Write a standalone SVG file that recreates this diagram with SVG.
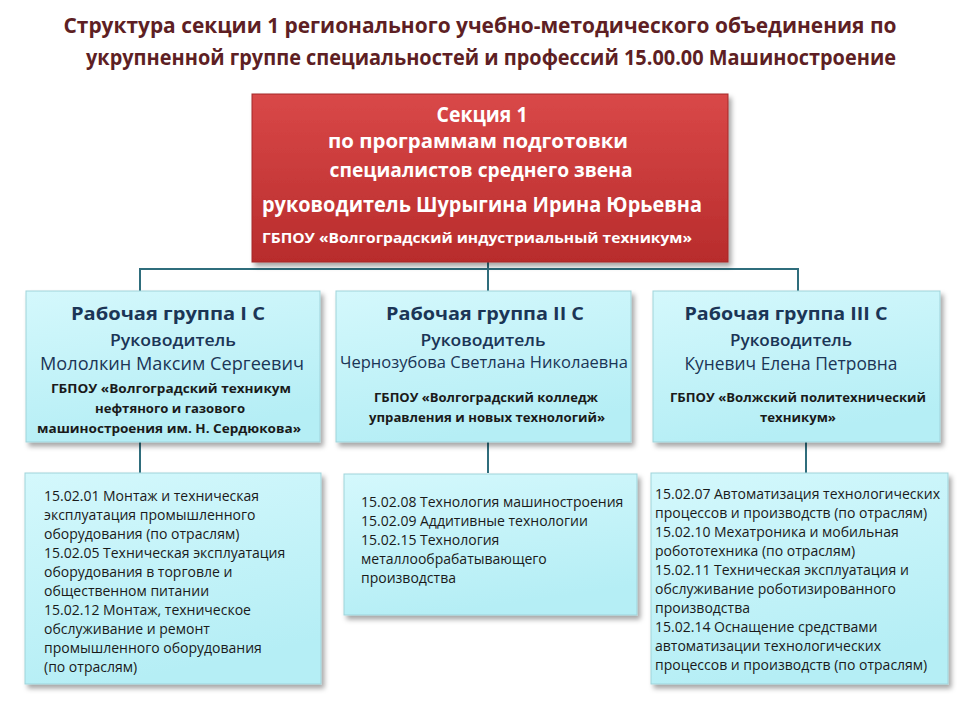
<svg xmlns="http://www.w3.org/2000/svg" width="960" height="720" viewBox="0 0 960 720">
<defs>
  <linearGradient id="gRed" x1="0" y1="0" x2="0" y2="1">
    <stop offset="0" stop-color="#d94848"/>
    <stop offset="1" stop-color="#b82c2c"/>
  </linearGradient>
  <linearGradient id="gCyan" x1="0" y1="0" x2="0.3" y2="1">
    <stop offset="0" stop-color="#d4f8fc"/>
    <stop offset="1" stop-color="#b5eef5"/>
  </linearGradient>
  <filter id="sh" x="-10%" y="-10%" width="120%" height="130%">
    <feDropShadow dx="3" dy="4" stdDeviation="2.5" flood-color="#000" flood-opacity="0.35"/>
  </filter>
</defs>
<style>
  .title{font-family:"Open Sans","Liberation Sans",sans-serif;font-weight:bold;font-size:22px;fill:#5e1f24}
  .red{fill:url(#gRed);stroke:#a42828;stroke-width:1}
  .cyan{fill:url(#gCyan);stroke:#9fd3da;stroke-width:1}
  .rt{font-family:"Open Sans","Liberation Sans",sans-serif;font-weight:bold;fill:#ffffff;text-anchor:middle}
  .gt{font-family:"Open Sans","Liberation Sans",sans-serif;fill:#1b3556;text-anchor:middle}
  .b{font-weight:bold}
  .sb{font-weight:600}
  .inst{font-family:"Open Sans","Liberation Sans",sans-serif;font-weight:bold;font-size:13px;fill:#1a1a1a;text-anchor:middle}
  .dt{font-family:"Open Sans","Liberation Sans",sans-serif;font-size:14px;fill:#1a1a1a}
  .conn{stroke:#2f6d7c;stroke-width:2;fill:none}
</style>

<g id="title">
  <text class="title" x="480" y="33" text-anchor="middle" textLength="833" lengthAdjust="spacingAndGlyphs">Структура секции 1 регионального учебно-методического объединения по</text>
  <text class="title" x="491" y="65" text-anchor="middle" textLength="810" lengthAdjust="spacingAndGlyphs">укрупненной группе специальностей и профессий 15.00.00 Машиностроение</text>
</g>

<g id="connectors">
  <path class="conn" d="M488 262 V269 M140 269 H798 M140 268 V291 M488 268 V291 M798 268 V291"/>
  <path class="conn" d="M140 442 V473 M488 442 V473 M806 442 V473"/>
</g>

<g id="section1">
  <rect class="red" x="252" y="94" width="476" height="168" filter="url(#sh)"/>
  <text class="rt" x="482" y="122" font-size="21" textLength="91" lengthAdjust="spacingAndGlyphs">Секция 1</text>
  <text class="rt" x="478" y="148" font-size="20" textLength="300" lengthAdjust="spacingAndGlyphs">по программам подготовки</text>
  <text class="rt" x="481" y="177" font-size="20" textLength="303" lengthAdjust="spacingAndGlyphs">специалистов среднего звена</text>
  <text class="rt" x="482" y="212" font-size="21" textLength="440" lengthAdjust="spacingAndGlyphs">руководитель Шурыгина  Ирина Юрьевна</text>
  <text class="rt" x="477" y="243" font-size="14.5" textLength="430" lengthAdjust="spacingAndGlyphs">ГБПОУ «Волгоградский индустриальный техникум»</text>
</g>

<g id="group1">
  <rect class="cyan" x="26" y="291" width="294" height="151" filter="url(#sh)"/>
  <text class="gt b" x="168" y="320" font-size="18" textLength="194" lengthAdjust="spacingAndGlyphs">Рабочая группа I С</text>
  <text class="gt sb" x="173" y="346" font-size="16" textLength="126" lengthAdjust="spacingAndGlyphs">Руководитель</text>
  <text class="gt" x="172" y="370" font-size="18" textLength="264" lengthAdjust="spacingAndGlyphs">Мололкин Максим Сергеевич</text>
  <text class="inst" x="171" y="393" textLength="240" lengthAdjust="spacingAndGlyphs">ГБПОУ «Волгоградский техникум</text>
  <text class="inst" x="170" y="413" textLength="150" lengthAdjust="spacingAndGlyphs">нефтяного и газового</text>
  <text class="inst" x="169" y="433" textLength="264" lengthAdjust="spacingAndGlyphs">машиностроения им. Н. Сердюкова»</text>
</g>

<g id="group2">
  <rect class="cyan" x="336" y="291" width="295" height="151" filter="url(#sh)"/>
  <text class="gt b" x="485" y="320" font-size="18" textLength="198" lengthAdjust="spacingAndGlyphs">Рабочая группа II С</text>
  <text class="gt sb" x="483" y="346" font-size="16" textLength="125" lengthAdjust="spacingAndGlyphs">Руководитель</text>
  <text class="gt" x="484" y="368" font-size="16" textLength="288" lengthAdjust="spacingAndGlyphs">Чернозубова Светлана Николаевна</text>
  <text class="inst" x="486" y="402" textLength="224" lengthAdjust="spacingAndGlyphs">ГБПОУ «Волгоградский колледж</text>
  <text class="inst" x="487" y="422" textLength="236" lengthAdjust="spacingAndGlyphs">управления и новых технологий»</text>
</g>

<g id="group3">
  <rect class="cyan" x="653" y="291" width="287" height="151" filter="url(#sh)"/>
  <text class="gt b" x="786" y="320" font-size="18" textLength="203" lengthAdjust="spacingAndGlyphs">Рабочая группа III С</text>
  <text class="gt sb" x="791" y="346" font-size="16" textLength="122" lengthAdjust="spacingAndGlyphs">Руководитель</text>
  <text class="gt" x="791" y="370" font-size="18" textLength="213" lengthAdjust="spacingAndGlyphs">Куневич Елена Петровна</text>
  <text class="inst" x="798" y="402" textLength="256" lengthAdjust="spacingAndGlyphs">ГБПОУ «Волжский политехнический</text>
  <text class="inst" x="798" y="422" textLength="76" lengthAdjust="spacingAndGlyphs">техникум»</text>
</g>

<g id="spec1">
  <rect class="cyan" x="25" y="473" width="296" height="211" filter="url(#sh)"/>
  <text class="dt">
    <tspan x="44" y="501">15.02.01 Монтаж и техническая</tspan>
    <tspan x="44" y="520">эксплуатация промышленного</tspan>
    <tspan x="44" y="539">оборудования (по отраслям)</tspan>
    <tspan x="44" y="558">15.02.05 Техническая эксплуатация</tspan>
    <tspan x="44" y="577">оборудования в торговле и</tspan>
    <tspan x="44" y="596">общественном питании</tspan>
    <tspan x="44" y="615">15.02.12 Монтаж, техническое</tspan>
    <tspan x="44" y="634">обслуживание и ремонт</tspan>
    <tspan x="44" y="653">промышленного оборудования</tspan>
    <tspan x="44" y="672">(по отраслям)</tspan>
  </text>
</g>

<g id="spec2">
  <rect class="cyan" x="344" y="474" width="293" height="141" filter="url(#sh)"/>
  <text class="dt">
    <tspan x="361" y="507">15.02.08 Технология машиностроения</tspan>
    <tspan x="361" y="526">15.02.09 Аддитивные технологии</tspan>
    <tspan x="361" y="545">15.02.15 Технология</tspan>
    <tspan x="361" y="564">металлообрабатывающего</tspan>
    <tspan x="361" y="583">производства</tspan>
  </text>
</g>

<g id="spec3">
  <rect class="cyan" x="651" y="473" width="297" height="211" filter="url(#sh)"/>
  <text class="dt">
    <tspan x="655" y="499">15.02.07 Автоматизация  технологических</tspan>
    <tspan x="655" y="518">процессов и производств (по отраслям)</tspan>
    <tspan x="655" y="537">15.02.10 Мехатроника и мобильная</tspan>
    <tspan x="655" y="556">робототехника (по отраслям)</tspan>
    <tspan x="655" y="575">15.02.11 Техническая эксплуатация и</tspan>
    <tspan x="655" y="594">обслуживание роботизированного</tspan>
    <tspan x="655" y="613">производства</tspan>
    <tspan x="655" y="632">15.02.14  Оснащение средствами</tspan>
    <tspan x="655" y="651">автоматизации технологических</tspan>
    <tspan x="655" y="670">процессов и производств (по отраслям)</tspan>
  </text>
</g>
</svg>
